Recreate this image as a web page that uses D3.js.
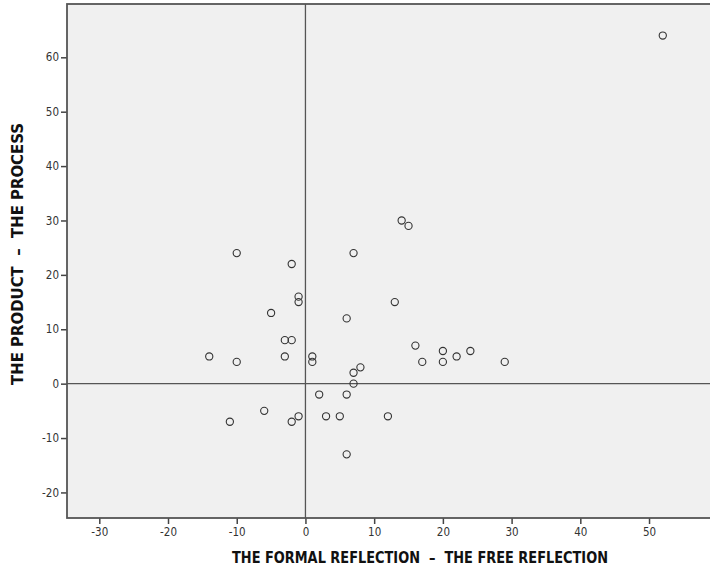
<!DOCTYPE html>
<html>
<head>
<meta charset="utf-8">
<script src="https://cdn.jsdelivr.net/npm/d3@7"></script>
<style>
body { margin: 0; background: #fff; }
.tick text { font-family: "DejaVu Sans Condensed", "Open Sans", sans-serif; font-size: 11.5px; fill: #333; }
.title { font-family: "DejaVu Sans Condensed", "Open Sans", sans-serif; font-weight: bold; font-size: 15px; fill: #111; white-space: pre; }
</style>
</head>
<body>
<svg id="chart" width="710" height="571"></svg>
<script>
// formal reflection - free reflection
var xVals = [52, 14, 15, -10, 7, -2, -1, -1, -5, 13, 6, -3, -2, 16, 20, 24, -14, -3, 1, 1, 22, -10, 17, 20, 29, 8, 7, 7, 2, 6, -6, -11, -1, -2, 3, 5, 12, 6];
// product - process
var yVals = [64, 30, 29, 24, 24, 22, 16, 15, 13, 15, 12, 8, 8, 7, 6, 6, 5, 5, 5, 4, 5, 4, 4, 4, 4, 3, 2, 0, -2, -2, -5, -7, -6, -7, -6, -6, -6, -13];
var xTicks = [-30, -20, -10, 0, 10, 20, 30, 40, 50];
var yTicks = [-20, -10, 0, 10, 20, 30, 40, 50, 60];

var svg = d3.select("#chart");
// the plot runs past the right edge of the picture
var margin = {top: 4, right: -5, bottom: 53, left: 67};
var width = +svg.attr("width") - margin.left - margin.right;
var height = +svg.attr("height") - margin.top - margin.bottom;

var x = d3.scaleLinear().domain([-34.7, 59.6]).range([0, width]);
var y = d3.scaleLinear().domain([-24.7, 69.8]).range([height, 0]);

var g = svg.append("g")
    .attr("transform", "translate(" + margin.left + "," + margin.top + ")");

g.append("rect")
    .attr("width", width)
    .attr("height", height)
    .attr("fill", "#f0f0f0");

// reference lines at zero
g.append("line")
    .attr("x1", x(0)).attr("x2", x(0))
    .attr("y1", 0).attr("y2", height)
    .attr("stroke", "#555").attr("stroke-width", 1.3);
g.append("line")
    .attr("x1", 0).attr("x2", width)
    .attr("y1", y(0)).attr("y2", y(0))
    .attr("stroke", "#555").attr("stroke-width", 1.3);

var fmt = function(d) { return d < 0 ? "-" + (-d) : d; };

var xAxis = g.append("g")
    .attr("transform", "translate(0," + height + ")")
    .call(d3.axisBottom(x).tickValues(xTicks).tickSize(6).tickPadding(4).tickFormat(fmt));
var yAxis = g.append("g")
    .call(d3.axisLeft(y).tickValues(yTicks).tickSize(6).tickPadding(2).tickFormat(fmt));

[xAxis, yAxis].forEach(function(a) {
  a.select(".domain").remove();
  a.selectAll(".tick line").attr("stroke", "#444").attr("stroke-width", 1.5);
});

// frame
g.append("rect")
    .attr("width", width)
    .attr("height", height)
    .attr("fill", "none")
    .attr("stroke", "#555")
    .attr("stroke-width", 1.8);

var data = xVals.map(function(v, i) { return {x: v, y: yVals[i]}; });

g.selectAll(".dot")
    .data(data)
  .enter().append("circle")
    .attr("class", "dot")
    .attr("cx", function(d) { return x(d.x); })
    .attr("cy", function(d) { return y(d.y); })
    .attr("r", 3.6)
    .attr("fill", "none")
    .attr("stroke", "#333")
    .attr("stroke-width", 1.1);

svg.append("text")
    .attr("class", "title")
    .attr("x", 420)
    .attr("y", 563)
    .attr("text-anchor", "middle")
    .attr("textLength", 376)
    .attr("lengthAdjust", "spacingAndGlyphs")
    .text("THE FORMAL REFLECTION \u00a0\u2013\u00a0 THE FREE REFLECTION");

svg.append("text")
    .attr("class", "title")
    .attr("transform", "translate(23,254) rotate(-90)")
    .attr("text-anchor", "middle")
    .attr("textLength", 262)
    .attr("lengthAdjust", "spacingAndGlyphs")
    .text("THE PRODUCT \u00a0\u2013\u00a0 THE PROCESS");
</script>
</body>
</html>
